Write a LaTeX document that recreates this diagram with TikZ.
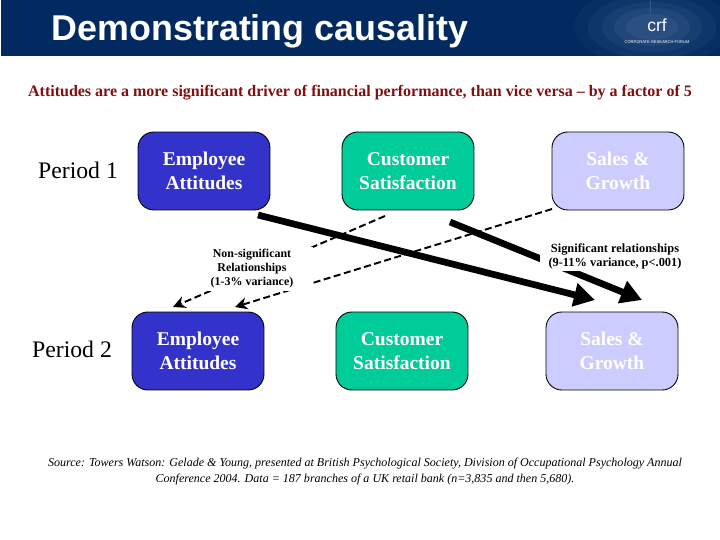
\documentclass[tikz,border=0pt]{standalone}
\usepackage{fontspec}
\setmainfont{Liberation Serif}
\setsansfont{Liberation Sans}
\usetikzlibrary{arrows.meta, positioning}
\definecolor{bannerblue}{RGB}{2,42,96}
\definecolor{ripple}{RGB}{70,106,152}
\definecolor{darkred}{RGB}{128,16,16}
\definecolor{empblue}{RGB}{51,51,204}
\definecolor{custgreen}{RGB}{0,204,153}
\definecolor{saleslilac}{RGB}{204,204,255}

\begin{document}
\begin{tikzpicture}[
    x=0.02cm, y=-0.02cm,
    block/.style={draw=black, rounded corners=9pt, minimum width=2.64cm, minimum height=1.56cm,
                  align=center, font=\fontsize{11.1}{13.6}\selectfont\bfseries, text=white,
                  line width=0.5pt},
    emp/.style={block, fill=empblue},
    cust/.style={block, fill=custgreen},
    sales/.style={block, fill=saleslilac},
    period/.style={font=\fontsize{13.5}{15}\selectfont},
    note/.style={fill=white, inner sep=0pt, align=center},
    strong/.style={-{Triangle[length=12pt, width=13pt]}, line width=3.8pt},
    weak/.style={-{Stealth[length=7pt, width=7pt]}, line width=1.1pt, dash pattern=on 4pt off 2pt}
]
\useasboundingbox (0,0) rectangle (720,540);

% ---- banner ----
\fill[white] (0,0) rectangle (720,540);
\fill[bannerblue] (1,0) rectangle (720,56);
\begin{scope}
    \clip (1,0) rectangle (720,56);
    \foreach \r/\o in {78/0.08, 64/0.12, 50/0.16, 38/0.22, 26/0.25}
        \fill[ripple, opacity=\o] (652,27) ellipse ({\r} and {\r*0.5});
    \draw[ripple, opacity=0.6, line width=0.4pt] (650,0) -- (650,14);
\end{scope}
\node[font=\sffamily\bfseries\fontsize{20.4}{22}\selectfont, text=white] (title) at (260,31) {Demonstrating causality};
\node[font=\sffamily\fontsize{10}{11}\selectfont, text=white] (logo) at (657,25) {crf};
\node[font=\sffamily\fontsize{2.3}{3}\selectfont, text=white, below=-2pt of logo] (logosub) {CORPORATE RESEARCH FORUM};

\node[font=\fontsize{9.1}{11}\selectfont\bfseries, text=darkred] (headline) at (360,92.5)
    {Attitudes are a more significant driver of financial performance, than vice versa -- by a factor of 5};

% ---- Period 1 ----
\node[period] (p1) at (78,170) {Period 1};
\node[emp]   (emp1)  at (204,171) {Employee\\Attitudes};
\node[cust]  (cust1) at (408,171) {Customer\\Satisfaction};
\node[sales] (sale1) at (618,171) {Sales \&\\Growth};

% ---- Period 2 ----
\node[period] (p2) at (72,349) {Period 2};
\node[emp]   (emp2)  at (198,351) {Employee\\Attitudes};
\node[cust]  (cust2) at (402,351) {Customer\\Satisfaction};
\node[sales] (sale2) at (612,351) {Sales \&\\Growth};

% ---- free ends ----
\coordinate (s1a) at (258,215);
\coordinate (s1b) at (595,300);
\coordinate (s2a) at (450,222);
\coordinate (s2b) at (642,300);
\coordinate (w1a) at (385,216);
\coordinate (w1b) at (173,307);
\coordinate (w2a) at (552,209);
\coordinate (w2b) at (235,307);

\draw[weak] (w1a) -- (w1b);
\draw[weak] (w2a) -- (w2b);
\draw[strong] (s1a) -- (s1b);
\draw[strong] (s2a) -- (s2b);

% ---- labels over the lines ----
\node[note, minimum width=2.44cm, minimum height=0.88cm, font=\fontsize{6.8}{8}\selectfont\bfseries]
    (nonsig) at (252,269) {Non-significant\\Relationships\\(1-3\% variance)};
\node[note, minimum width=3cm, minimum height=0.6cm, font=\fontsize{7.05}{8}\selectfont\bfseries]
    (sig) at (615,256) {Significant relationships\\(9-11\% variance, p<.001)};

% ---- source ----
\node[align=center, font=\itshape\fontsize{6.85}{9.1}\selectfont] (source) at (365,472)
    {Source: Towers Watson: Gelade \& Young, presented at British Psychological Society, Division of Occupational Psychology Annual\\
     Conference 2004. Data = 187 branches of a UK retail bank (n=3,835 and then 5,680).};
\end{tikzpicture}
\end{document}
